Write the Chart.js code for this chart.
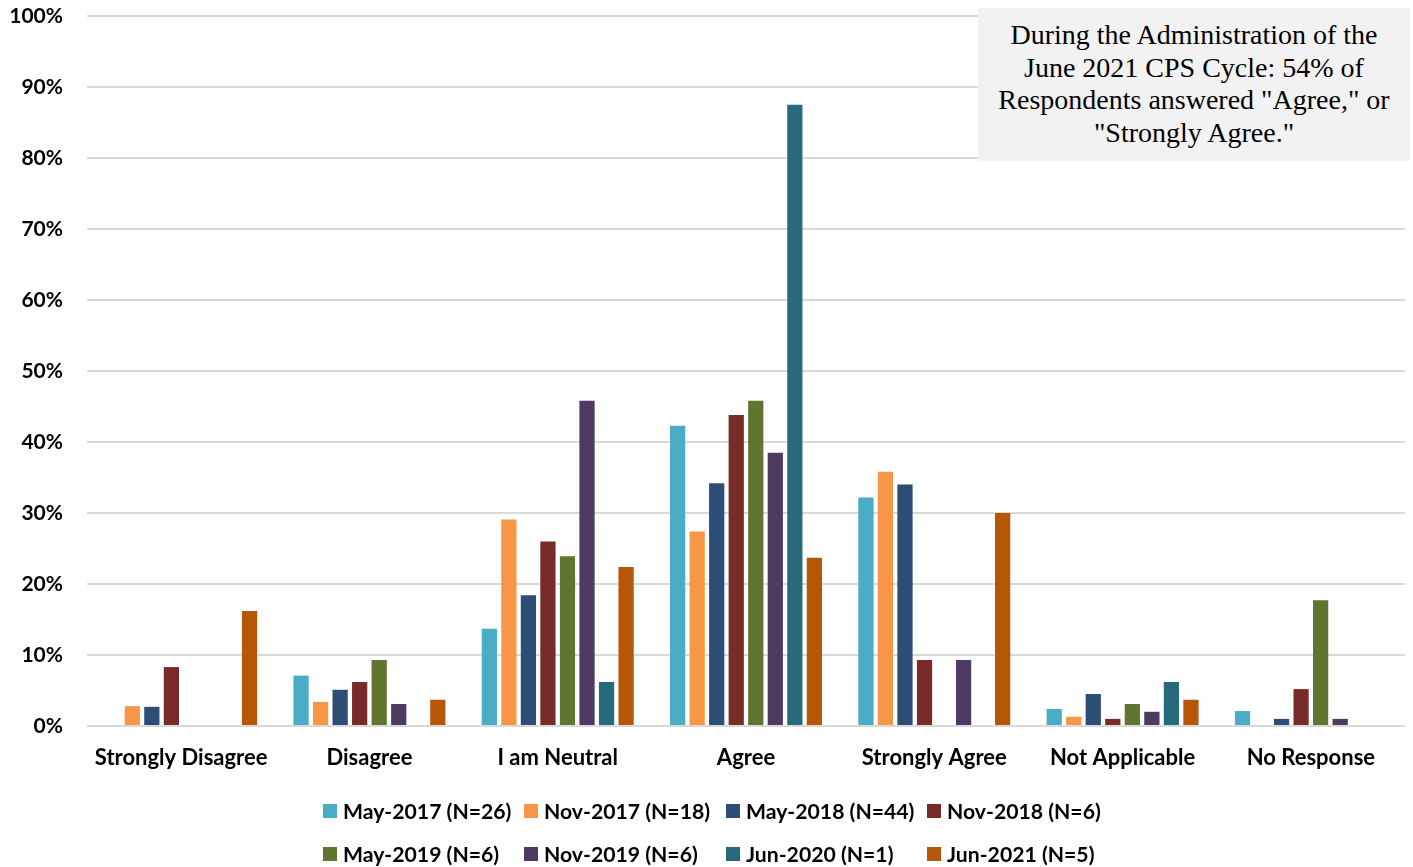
<!DOCTYPE html>
<html lang="en">
<head>
    <meta charset="UTF-8">
    <title>CPS Cycle Responses</title>
    <script src="https://cdn.jsdelivr.net/npm/chart.js@4.4.0/dist/chart.umd.min.js"></script>
    <style>
        body {
            margin: 0;
            background: #ffffff;
            font-family: Lato, sans-serif;
        }
        .wrap {
            position: relative;
            width: 1413px;
            height: 867px;
        }
        .note {
            position: absolute;
            left: 978px;
            top: 8px;
            width: 432px;
            height: 153px;
            background: #f2f2f2;
            font-family: "Liberation Serif", "Times New Roman", serif;
            font-size: 28px;
            line-height: 32.5px;
            color: #000;
            text-align: center;
            box-sizing: border-box;
            padding-top: 11px;
            white-space: nowrap;
        }
        .legend {
            position: absolute;
            left: 323px;
            top: 789px;
            display: grid;
            grid-template-columns: 201px 202px 201px auto;
            grid-auto-rows: 43px;
            font-weight: bold;
            font-size: 21.2px;
            color: #000;
        }
        .legend span.item {
            display: flex;
            align-items: center;
            white-space: nowrap;
        }
        .legend i {
            display: inline-block;
            width: 14px;
            height: 14px;
            margin-right: 6px;
        }
    </style>
</head>
<body>
    <div class="wrap">
        <canvas id="chart" width="1413" height="867"></canvas>
        <div class="note">During the Administration of the<br>June 2021 CPS Cycle: 54% of<br>Respondents answered "Agree," or<br>"Strongly Agree."</div>
        <div class="legend" id="legend"></div>
    </div>

    <script>
        // categories along the x axis
        const categories = ['Strongly Disagree', 'Disagree', 'I am Neutral', 'Agree', 'Strongly Agree', 'Not Applicable', 'No Response'];

        // survey administrations
        const seriesLabels = ['May-2017 (N=26)', 'Nov-2017 (N=18)', 'May-2018 (N=44)', 'Nov-2018 (N=6)',
                              'May-2019 (N=6)', 'Nov-2019 (N=6)', 'Jun-2020 (N=1)', 'Jun-2021 (N=5)'];
        const seriesColors = ['#4bacc6', '#f79646', '#2c4d75', '#772c2a', '#5f7530', '#4d3b62', '#276a7c', '#b65708'];

        // percentages per category
        const may2017 = [0, 7.1, 13.7, 42.3, 32.2, 2.4, 2.1];
        const nov2017 = [2.8, 3.4, 29.1, 27.4, 35.8, 1.3, 0];
        const may2018 = [2.7, 5.1, 18.4, 34.2, 34.0, 4.5, 1.0];
        const nov2018 = [8.3, 6.2, 26.0, 43.8, 9.3, 1.0, 5.2];
        const may2019 = [0, 9.3, 23.9, 45.8, 0, 3.1, 17.7];
        const nov2019 = [0, 3.1, 45.8, 38.5, 9.3, 2.0, 1.0];
        const jun2020 = [0, 0, 6.2, 87.5, 0, 6.2, 0];
        const jun2021 = [16.2, 3.7, 22.4, 23.7, 30.0, 3.7, 0];
        const seriesValues = [may2017, nov2017, may2018, nov2018, may2019, nov2019, jun2020, jun2021];

        // y axis ticks
        const yTicks = [0, 10, 20, 30, 40, 50, 60, 70, 80, 90, 100];

        const datasets = seriesLabels.map((label, i) => ({
            label: label,
            data: seriesValues[i],
            backgroundColor: seriesColors[i],
            borderColor: '#ffffff',
            borderWidth: 0,
            categoryPercentage: 0.83,
            barPercentage: 0.78
        }));

        new Chart(document.getElementById('chart'), {
            type: 'bar',
            data: { labels: categories, datasets: datasets },
            options: {
                responsive: false,
                animation: false,
                layout: { padding: { left: 0, right: 8, top: 16, bottom: 0 } },
                plugins: {
                    legend: { display: false },
                    tooltip: { enabled: false }
                },
                scales: {
                    x: {
                        grid: { display: false },
                        border: { display: false },
                        ticks: { color: '#000', font: { family: 'Lato', weight: 'bold', size: 22 }, padding: 11, maxRotation: 0 },
                        afterFit: (scale) => { scale.height = 141; }
                    },
                    y: {
                        min: 0,
                        max: 100,
                        afterBuildTicks: (scale) => { scale.ticks = yTicks.map(v => ({ value: v })); },
                        grid: { color: '#d9d9d9', lineWidth: 2, drawTicks: false },
                        border: { display: false },
                        ticks: { color: '#000', font: { family: 'Lato', weight: 'bold', size: 21 }, padding: 24, callback: (v) => v + '%' },
                        afterFit: (scale) => {
                            scale.width = 87;
                            // the tick padding should not push the plot area down
                            scale.paddingTop = 0;
                            scale.paddingBottom = 0;
                        }
                    }
                }
            }
        });

        // html legend, laid out in a 4-column grid like the original
        const legendEl = document.getElementById('legend');
        seriesLabels.forEach((label, i) => {
            const item = document.createElement('span');
            item.className = 'item';
            const sw = document.createElement('i');
            sw.style.background = seriesColors[i];
            item.appendChild(sw);
            item.appendChild(document.createTextNode(label));
            legendEl.appendChild(item);
        });
    </script>
</body>
</html>
